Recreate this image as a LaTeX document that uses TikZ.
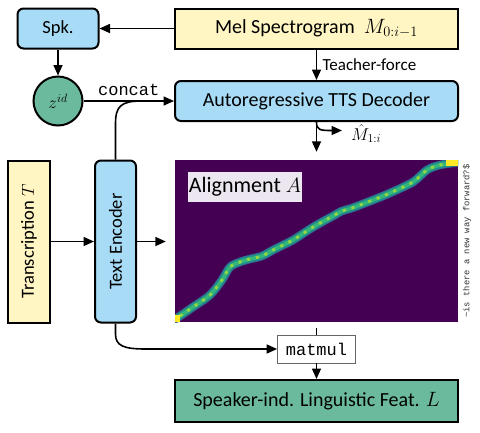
\documentclass[tikz,border=0pt]{standalone}
\usepackage{fontspec}
\setmainfont{Carlito}
\setmonofont{Liberation Mono}
\usetikzlibrary{arrows.meta}
\definecolor{boxblue}{RGB}{168,220,246}
\definecolor{boxyellow}{RGB}{255,246,196}
\definecolor{boxteal}{RGB}{108,186,158}
\definecolor{vpurple}{RGB}{68,1,84}
\definecolor{vblue}{RGB}{49,104,142}
\definecolor{vteal}{RGB}{33,145,140}
\definecolor{vgreen}{RGB}{53,183,121}
\definecolor{vlime}{RGB}{144,215,67}
\definecolor{vyellow}{RGB}{253,231,37}
\definecolor{lavender}{RGB}{236,230,240}
\tikzset{
  fbig/.style={font=\fontsize{20}{24}\selectfont},
  fmid/.style={font=\fontsize{18.5}{22}\selectfont},
  bluebox/.style={draw, line width=2pt, fill=boxblue, rounded corners=6pt, inner sep=0pt},
  yellowbox/.style={draw, line width=2pt, fill=boxyellow, inner sep=0pt},
  tealbox/.style={draw, line width=2pt, fill=boxteal, inner sep=0pt},
  conn/.style={line width=1.6pt},
  arr/.style={line width=1.6pt, -{Triangle[length=10.5pt,width=9pt]}},
}
\begin{document}
\begin{tikzpicture}[x=1pt,y=-1pt]
\useasboundingbox (0,0) rectangle (480,432);

% nodes
\node[bluebox, fmid, minimum width=81, minimum height=40] (spk) at (58,28.5) {Spk.};
\node[yellowbox, fbig, minimum width=283, minimum height=40] (mel) at (316.5,28.5) {Mel Spectrogram\ \ $M_{0:i-1}$};
\node[circle, draw, line width=2pt, fill=boxteal, minimum size=49, inner sep=0pt, fmid] (z) at (58,101) {$z^{id}$};
\node[bluebox, fbig, minimum width=283, minimum height=40] (dec) at (316.5,101) {Autoregressive TTS Decoder};
\node[yellowbox, fmid, rotate=90, minimum width=162, minimum height=42] (trans) at (29,241.5) {Transcription $T$};
\node[bluebox, fmid, rotate=90, minimum width=162, minimum height=41] (te) at (115.5,241.5) {Text Encoder};
\node[fill=vpurple, minimum width=283, minimum height=162, inner sep=0pt] (heat) at (316.5,241) {};

% alignment band
\begin{scope}
\clip (175,160) rectangle (458,322);
\def\bandpts{(172,320) (177,318) (193,307) (210,295) (222,280) (230,267) (240,262) (250,259) (262,256) (275,249) (293,240) (310,229) (322,222) (333,216) (342,211) (352,208) (373,200) (390,193) (413,182) (427,170) (440,165) (460,162)}
\draw[vblue, line width=8.5pt, line cap=round, line join=round] plot[smooth] coordinates {\bandpts};
\draw[vteal, line width=6.5pt, line cap=round, line join=round] plot[smooth] coordinates {\bandpts};
\draw[vgreen, line width=3.5pt, line join=round] plot[smooth] coordinates {\bandpts};
\draw[vlime, line width=3pt, dash pattern=on 3pt off 6pt] plot[smooth] coordinates {\bandpts};
\fill[vyellow] (175,315) rectangle (180,322);
\fill[vyellow] (446,160) rectangle (458,166);
\end{scope}

\node[fill=lavender, minimum width=114, minimum height=30, inner sep=0pt, font=\fontsize{22}{26}\selectfont] (alabel) at (245,187) {Alignment $A$};
\node[rotate=90, inner sep=0pt, font=\fontsize{8.8}{10}\ttfamily, text=black!80] (sent) at (467,241) {\textasciitilde{}is there a new way forward?\$};

\node[draw=black!60, line width=0.8pt, fill=white, minimum width=78, minimum height=28, inner sep=0pt, font=\fontsize{17}{20}\ttfamily] (mm) at (316.5,349) {matmul};
\node[tealbox, fbig, minimum width=283, minimum height=42] (lf) at (316.5,401) {Speaker-ind. Linguistic Feat. $L$};

% connectors
\draw[arr] (mel.west) -- (spk.east);
\draw[arr] (spk) -- (z);
\draw[arr] (z.east) -- (z.east -| dec.west) node[pos=0.5, above=1pt, font=\fontsize{17}{20}\ttfamily] (concat) {concat};
\draw[conn] (te.east) -- (115.5,124) .. controls (115.5,106) and (121,101) .. (142,101);
\draw[arr] (mel.south) -- (dec.north) node[midway, right=2pt, font=\fontsize{17}{20}\selectfont] (tf) {Teacher-force};
\draw[arr, shorten >=8pt] (dec.south) -- (heat.north);
\node[fmid, anchor=west, inner sep=0pt] (mhat) at (351,133.5) {$\hat{M}_{1:i}$};
\draw[arr] (316.5,122) .. controls (316.5,130) and (320,130.5) .. (342,130.5);
\draw[arr] (trans.south) -- (te.north);
\draw[arr, shorten >=9pt] (te.south) -- (te.south -| heat.west);
\draw[conn, shorten <=6pt] (heat.south) -- (mm.north);
\draw[arr] (te.west) -- (115.5,334) .. controls (115.5,346) and (124,349) .. (146,349) -- (mm.west);
\draw[arr] (mm.south) -- (lf.north);
\end{tikzpicture}
\end{document}
